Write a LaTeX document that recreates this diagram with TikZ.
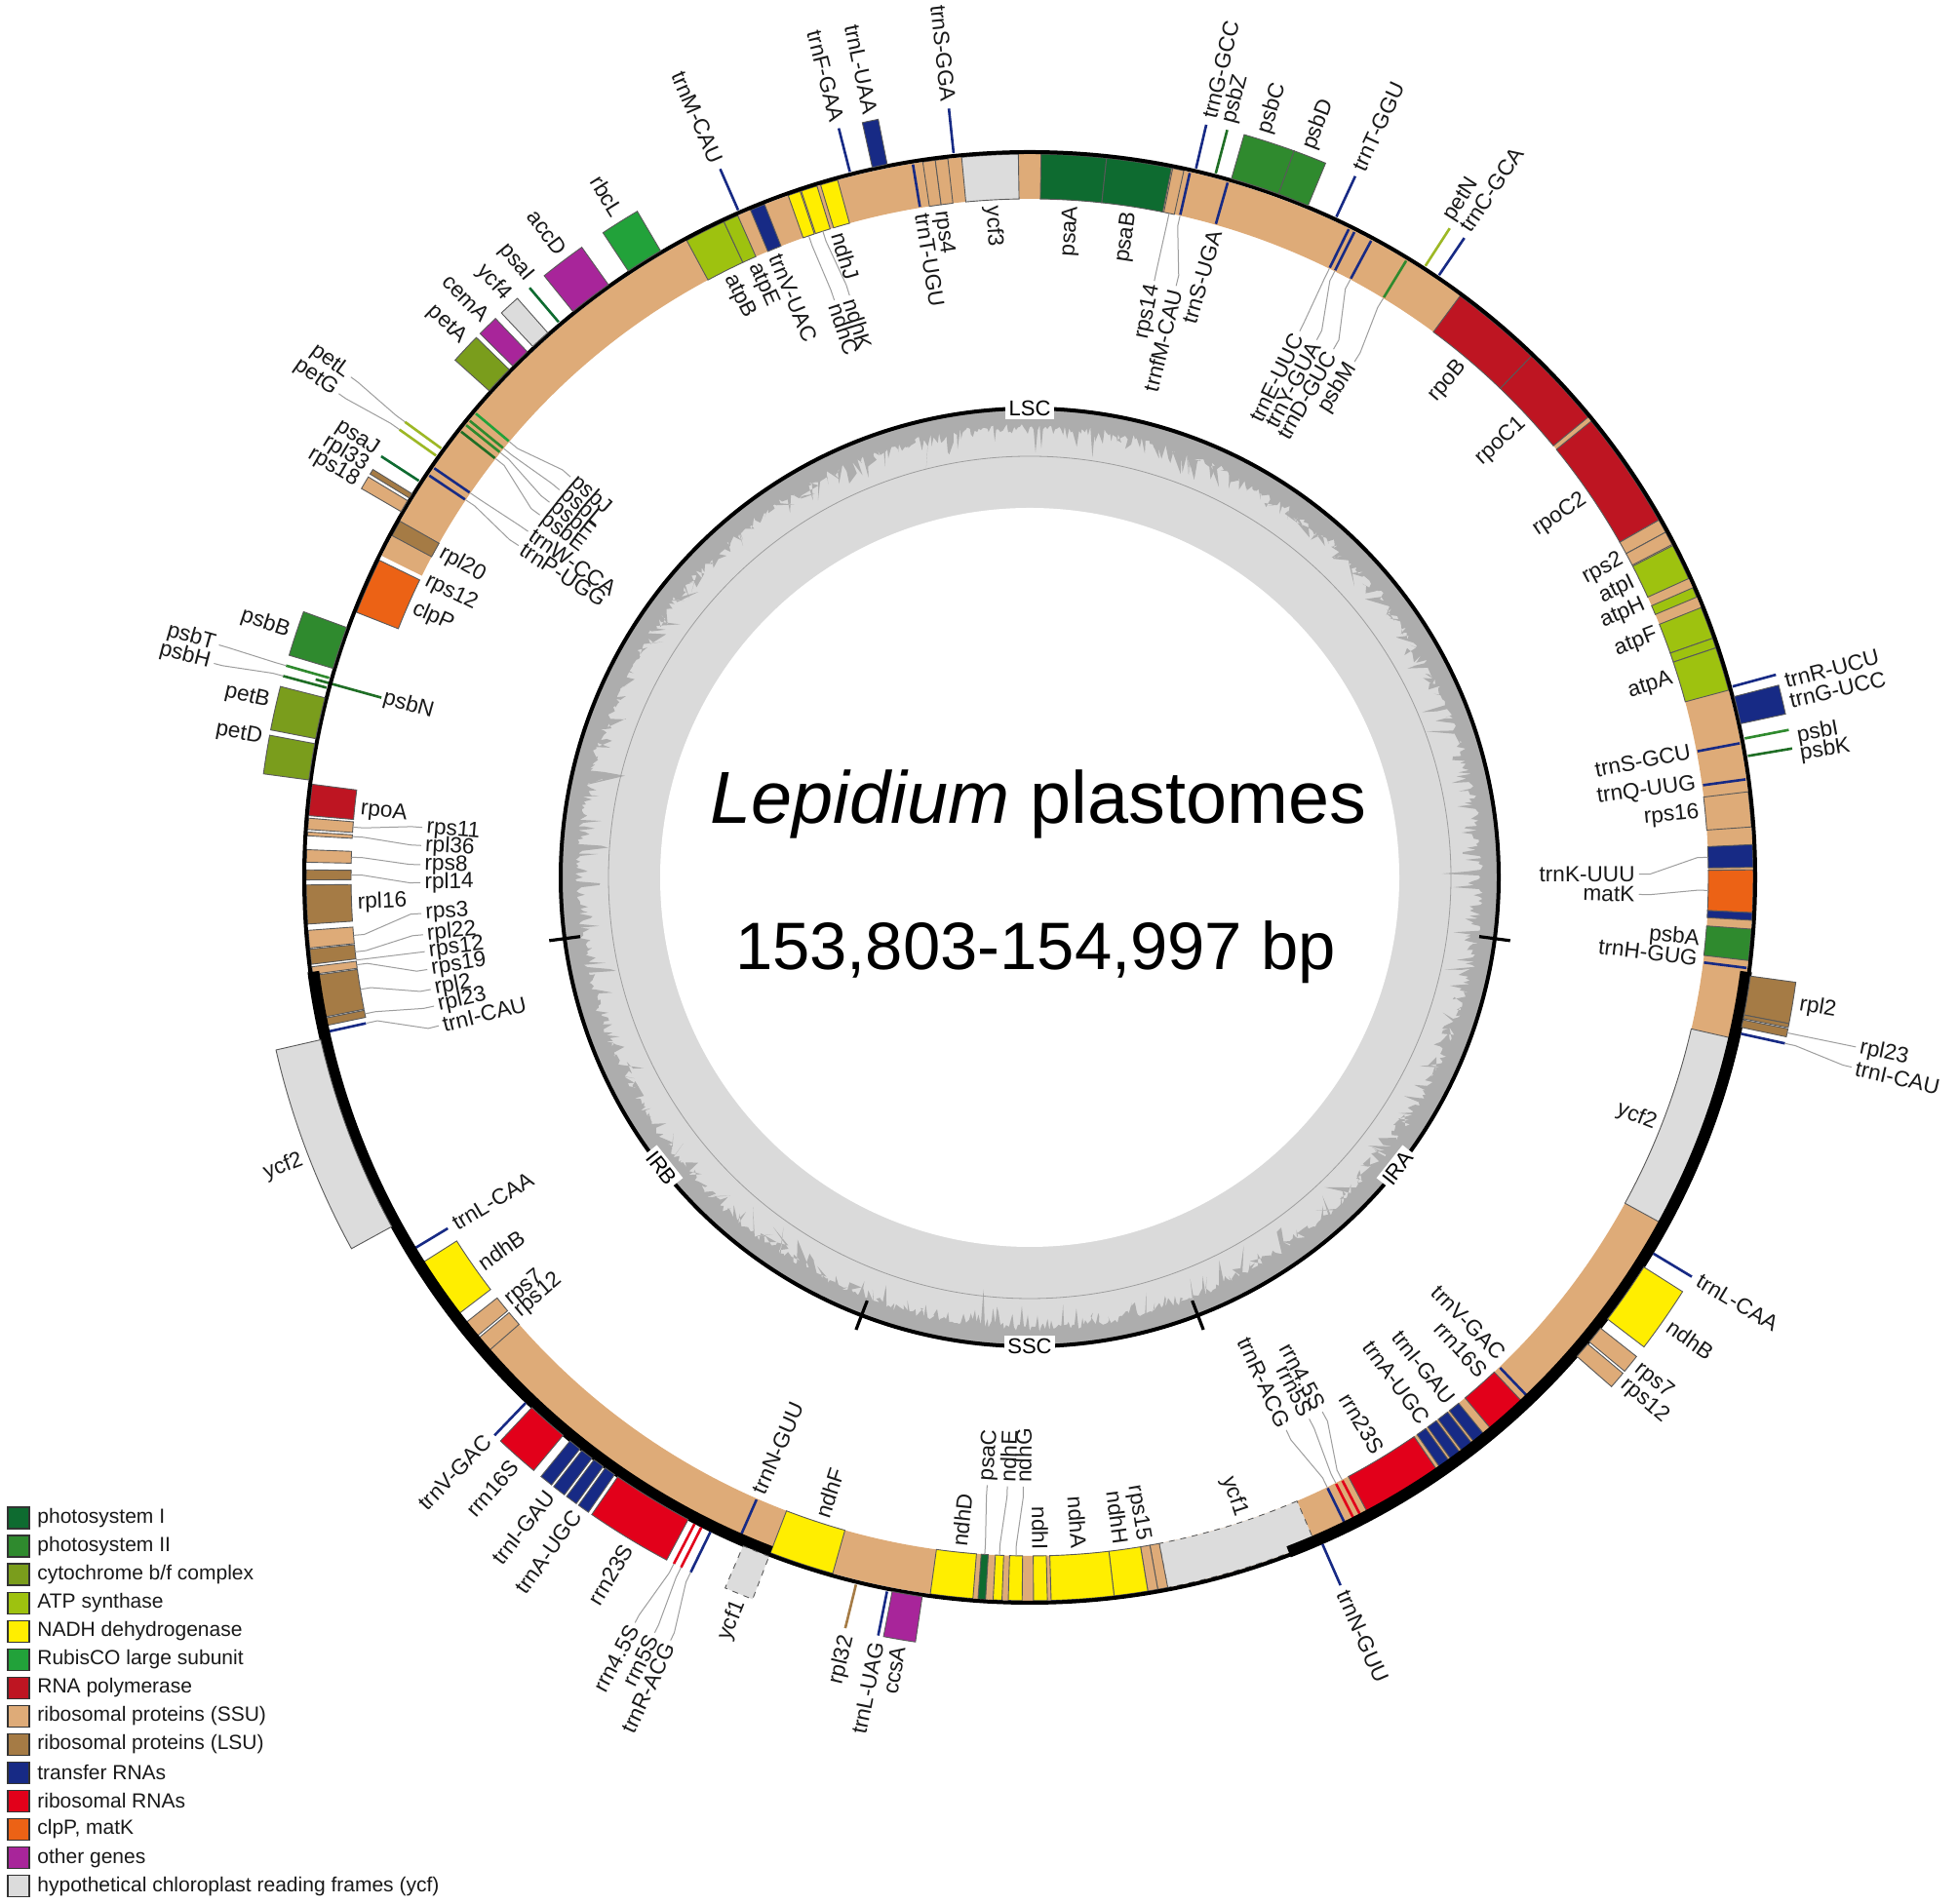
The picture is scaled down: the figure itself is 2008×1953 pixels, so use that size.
\documentclass[tikz,border=0pt]{standalone}
\usepackage{fontspec}
\setmainfont{Liberation Sans}
\setsansfont{Liberation Sans}
\definecolor{cPSI}{HTML}{0E6B30}
\definecolor{cPSII}{HTML}{2F8A2E}
\definecolor{cPSIId}{HTML}{1F6E25}
\definecolor{cCYT}{HTML}{7A9D1C}
\definecolor{cCYTl}{HTML}{9DB825}
\definecolor{cATP}{HTML}{9EC20F}
\definecolor{cNDH}{HTML}{FFEE00}
\definecolor{cRBC}{HTML}{22A23A}
\definecolor{cRPO}{HTML}{BE1522}
\definecolor{cSSU}{HTML}{DEAB78}
\definecolor{cLSU}{HTML}{A57B45}
\definecolor{cTRN}{HTML}{172A85}
\definecolor{cRRN}{HTML}{E2001A}
\definecolor{cCLP}{HTML}{EC6215}
\definecolor{cOTH}{HTML}{A8259A}
\definecolor{cYCF}{HTML}{DCDCDC}
\definecolor{gcL}{HTML}{DADADA}
\definecolor{gcD}{HTML}{ADADAD}
\tikzset{
 gene/.style={draw=black!65,line width=0.45pt},
 gline/.style={line width=1.3pt},
 lab/.style={font=\fontsize{11.3}{12}\selectfont,inner sep=0pt,text=black!90},
 leader/.style={draw=black!38,line width=0.5pt},
 reg/.style={fill=white,inner sep=1.6pt,font=\fontsize{11}{12}\selectfont},
 legsq/.style={draw=black!80,line width=0.6pt},
 legtx/.style={font=\fontsize{10.5}{12}\selectfont,anchor=west,inner sep=0pt,text=black!90},
}
\newcommand\sect[6]{\filldraw[gene,fill=#5,#6] ({90-(#1)}:#3) arc[start angle={90-(#1)},end angle={90-(#2)},radius=#3] -- ({90-(#2)}:#4) arc[start angle={90-(#2)},end angle={90-(#1)},radius=#4] -- cycle;}
\newcommand\ib[4][]{\sect{#2}{#3}{696}{742}{#4}{#1}}
\newcommand\ob[4][]{\sect{#2}{#3}{746}{793}{#4}{#1}}
\newcommand\il[2]{\draw[gline,draw=#2] ({90-(#1)}:697) -- ({90-(#1)}:741);}
\newcommand\ol[2]{\draw[gline,draw=#2] ({90-(#1)}:747) -- ({90-(#1)}:793);}
\newcounter{lc}
\newcommand\lo[3]{\stepcounter{lc}\pgfmathsetmacro\gA{90-(#1)}\pgfmathsetmacro\gR{270-(#1)}%
 \ifdim #1pt<180pt\relax
  \node[lab,rotate=\gA,anchor=west] (l\thelc) at (\gA:#2) {#3};%
 \else
  \node[lab,rotate=\gR,anchor=east] (l\thelc) at (\gA:#2) {#3};%
 \fi}
\newcommand\li[3]{\stepcounter{lc}\pgfmathsetmacro\gA{90-(#1)}\pgfmathsetmacro\gR{270-(#1)}%
 \ifdim #1pt<180pt\relax
  \node[lab,rotate=\gA,anchor=east] (l\thelc) at (\gA:#2) {#3};%
 \else
  \node[lab,rotate=\gR,anchor=west] (l\thelc) at (\gA:#2) {#3};%
 \fi}
\newcommand\ldo[2]{\draw[leader] ({90-(#1)}:793) -- ({90-(#1)}:804) -- ({90-(#2)}:856) -- ({90-(#2)}:865);}
\newcommand\ldi[2]{\draw[leader] ({90-(#1)}:696) -- ({90-(#1)}:685) -- ({90-(#2)}:636) -- ({90-(#2)}:625);}
\newcommand\LO[3]{\ldo{#1}{#2}\lo{#2}{869}{#3}}
\newcommand\LI[3]{\ldi{#1}{#2}\li{#2}{621}{#3}}
\begin{document}
\begin{tikzpicture}[x=0.5pt,y=0.5pt]
\useasboundingbox (0,0) rectangle (2008,1953);
\fill[white] (0,0) rectangle (2008,1953);
\begin{scope}[shift={(1056,1053)}]
% ---------- GC content ring ----------
\fill[gcL] (0,0) circle[radius=481];
\fill[white] (0,0) circle[radius=379];
\pgfmathsetseed{3}
\fill[gcD,even odd rule] (0,0) circle[radius=481] (0:462) \foreach \a in {0.25,0.5,...,359.75}{ -- ({\a}:{467-44*rnd*rnd*rnd-6*rnd}) } -- cycle;
\draw[black!38,line width=0.4pt] (0,0) circle[radius=432];
\draw[line width=2pt] (0,0) circle[radius=481];
\foreach \t in {97.5,159,201,262.5}{\draw[line width=1.6pt] ({90-\t}:465) -- ({90-\t}:497);}
\node[reg] (LSC) at (90:481) {LSC};
\node[reg] (SSC) at (-90:481) {SSC};
\node[reg,rotate=51.7] (IRA) at ({90-128.3}:481) {IRA};
\node[reg,rotate=-51.7] (IRB) at ({90-231.7}:481) {IRB};
% ---------- tan band (rps12 trans-spliced) ----------
\fill[cSSU] (-206.4:696) arc[start angle=-206.4,end angle=-498.8,radius=696] -- (-498.8:742) arc[start angle=-498.8,end angle=-206.4,radius=742] -- cycle;
% ---------- inner genes ----------
\ib{262.3}{262.9}{cSSU}\ib{263.1}{264.3}{cLSU}\ib{264.4}{265.8}{cSSU}
\ib{266.3}{269.4}{cLSU}\ib{269.8}{270.6}{cLSU}\ib{271.2}{272.2}{cSSU}
\ib{273.3}{273.6}{cSSU}\ib{273.8}{274.7}{cSSU}\ib{274.9}{277.4}{cRPO}
\draw[gline,draw=cPSIId] ({90-285.5}:690) -- ({90-285.5}:760);
\ib{291.5}{296.0}{cCLP}
\ib{298.2}{299.5}{cLSU}
\il{303.8}{cTRN}\il{304.5}{cTRN}
\il{308.1}{cPSIId}\il{308.75}{cPSII}\il{309.2}{cPSII}\il{309.95}{cRBC}
\ib{331.7}{335.0}{cATP}\ib{335.0}{336.2}{cATP}
\ib{337.3}{338.5}{cTRN}
\ib{340.5}{341.5}{cNDH}\ib{341.6}{342.9}{cNDH}\ib{343.2}{344.6}{cNDH}
\il{350.7}{cTRN}
\ib{351.5}{352.5}{cSSU}\ib{352.5}{353.5}{cSSU}
\ib{354.6}{359.1}{cYCF}
\ib{0.9}{6.1}{cPSI}\ib{6.1}{11.3}{cPSI}
\ib{11.4}{12.3}{cSSU}
\il{12.8}{cTRN}\il{15.9}{cTRN}
\il{26.2}{cTRN}\il{26.7}{cTRN}\il{28.2}{cTRN}
\il{31.4}{cPSII}
\ib{36.5}{43.9}{cRPO}\ib{43.9}{50.5}{cRPO}\ib{50.9}{60.4}{cRPO}
\ib{60.4}{61.5}{cSSU}\ib{61.5}{62.6}{cSSU}
\ib{62.7}{65.6}{cATP}\ib{66.4}{67.2}{cATP}\ib{68.1}{70.7}{cATP}\ib{70.7}{71.5}{cATP}\ib{71.5}{75.0}{cATP}
\il{79.3}{cTRN}\il{82.2}{cTRN}
\ib{83.2}{86.0}{cSSU}
\ib{87.4}{89.2}{cTRN}\ib{89.4}{92.8}{cCLP}\ib{92.8}{93.4}{cTRN}
\ib{94.1}{96.6}{cPSII}
\il{97.2}{cTRN}
% IRA inner
\ib{102.9}{118.7}{cYCF}
\il{136.2}{cTRN}
\ib{136.8}{140.1}{cRRN}
\ib{140.8}{141.8}{cTRN}\ib{142.0}{143.0}{cTRN}
\ib{143.2}{144.1}{cTRN}\ib{144.3}{145.2}{cTRN}
\ib{145.5}{152.0}{cRRN}
\il{152.6}{cRRN}\il{153.2}{cRRN}\il{154.0}{cTRN}
\ib[dashed]{156.8}{169.0}{cYCF}
% SSC inner
\ib{169.0}{169.8}{cSSU}\ib{169.8}{170.6}{cSSU}
\ib{170.6}{173.3}{cNDH}\ib{173.3}{178.3}{cNDH}\ib{178.6}{179.7}{cNDH}
\ib{180.6}{181.7}{cNDH}\ib{182.2}{182.9}{cNDH}\ib{183.5}{184.1}{cPSI}
\ib{184.5}{187.9}{cNDH}\ib{195.8}{201.0}{cNDH}
% IRB inner
\il{203.7}{cTRN}
\ib{228.8}{230.1}{cSSU}\ib{230.3}{231.7}{cSSU}\ib{232.6}{237.6}{cNDH}\il{238.9}{cTRN}
\il{257.6}{cTRN}\ib{258.1}{258.7}{cLSU}\ib{258.8}{262.2}{cLSU}
% ---------- genome circle ----------
\draw[line width=2pt] (0,0) circle[radius=744];
\draw[line width=6pt] ({90-97.5}:741) arc[start angle={90-97.5},end angle={90-159},radius=741];
\draw[line width=6pt] ({90-201}:741) arc[start angle={90-201},end angle={90-262.5},radius=741];
% ---------- outer genes ----------
\ob{277.7}{280.6}{cCYT}\ob{281.0}{284.3}{cCYT}
\ol{285.1}{cPSIId}\ol{285.9}{cPSII}
\ob{286.7}{290.1}{cPSII}
\ob{300.2}{301.2}{cSSU}\ob{301.45}{301.85}{cLSU}\ol{303.0}{cPSI}
\ol{305.4}{cCYTl}\ol{306.1}{cCYTl}
\ob{312.0}{314.3}{cCYT}\ob{314.7}{316.3}{cOTH}\ob{316.9}{318.5}{cYCF}\ol{319.7}{cPSI}
\ob{321.1}{324.6}{cOTH}\ob{326.5}{329.5}{cRBC}
\ol{336.4}{cTRN}\ol{345.7}{cTRN}\ob{347.5}{348.7}{cTRN}\ol{354.0}{cTRN}
\ol{13.2}{cTRN}\ol{14.8}{cPSIId}
\ob{16.1}{20.0}{cPSII}\ob{20.0}{22.5}{cPSII}
\ol{24.9}{cTRN}\ol{32.9}{cCYTl}\ol{34.2}{cTRN}
\ol{74.8}{cTRN}\ob{75.6}{77.8}{cTRN}\ol{79.0}{cPSII}\ol{80.4}{cPSIId}
% IRA outer
\ob{97.8}{100.9}{cLSU}\ob{100.9}{101.2}{cLSU}\ob{101.3}{101.9}{cLSU}\ol{102.4}{cTRN}
\ol{121.1}{cTRN}\ob{122.4}{127.4}{cNDH}\ob{128.3}{129.7}{cSSU}\ob{129.9}{131.2}{cSSU}
\ol{156.3}{cTRN}
% SSC outer
\ob{188.5}{190.9}{cOTH}\ol{191.3}{cTRN}\ol{193.8}{cLSU}
% IRB outer
\ob[dashed]{201.0}{203.2}{cYCF}
\ol{206.0}{cTRN}\ol{206.8}{cRRN}\ol{207.4}{cRRN}
\ob{208.0}{214.5}{cRRN}
\ob{214.8}{215.7}{cTRN}\ob{215.9}{216.8}{cTRN}\ob{217.0}{218.0}{cTRN}\ob{218.2}{219.2}{cTRN}
\ob{219.9}{223.2}{cRRN}\ol{223.8}{cTRN}
\ob{241.3}{257.1}{cYCF}
% ---------- outer labels ----------
\lo{280.3}{800}{petD}\lo{283.0}{800}{petB}\lo{288.4}{800}{psbB}
\lo{300.5}{800}{rps18}\lo{301.8}{800}{rpl33}\lo{303.2}{800}{psaJ}
\lo{313.5}{800}{petA}\lo{315.8}{800}{cemA}\lo{318.0}{800}{ycf4}\lo{320.1}{800}{psaI}
\lo{323.2}{800}{accD}\lo{328.2}{800}{rbcL}\lo{336.4}{800}{trnM-CAU}
\lo{345.7}{800}{trnF-GAA}\lo{348.2}{800}{trnL-UAA}\lo{354.0}{800}{trnS-GGA}
\lo{13.3}{800}{trnG-GCC}\lo{14.8}{800}{psbZ}\lo{17.5}{800}{psbC}\lo{21.0}{800}{psbD}
\lo{24.9}{800}{trnT-GGU}\lo{32.5}{800}{petN}\lo{33.9}{800}{trnC-GCA}
\lo{75.4}{800}{trnR-UCU}\lo{76.9}{800}{trnG-UCC}\lo{79.6}{800}{psbI}\lo{80.9}{800}{psbK}
\lo{99.4}{800}{rpl2}\lo{121.0}{800}{trnL-CAA}\lo{125.0}{800}{ndhB}
\lo{128.9}{800}{rps7}\lo{130.4}{800}{rps12}\lo{156.3}{800}{trnN-GUU}
\lo{189.7}{800}{ccsA}\lo{191.3}{800}{trnL-UAG}\lo{193.5}{800}{rpl32}\lo{201.8}{800}{ycf1}
\lo{211.0}{800}{rrn23S}\lo{215.5}{800}{trnA-UGC}\lo{217.9}{800}{trnI-GAU}
\lo{221.3}{800}{rrn16S}\lo{224.0}{800}{trnV-GAC}\lo{248.8}{800}{ycf2}
\LO{285.1}{284.7}{psbH}\LO{285.9}{286.0}{psbT}
\LO{305.4}{305.0}{petG}\LO{306.1}{306.4}{petL}
\LO{101.6}{101.6}{rpl23}\LO{102.4}{103.0}{trnI-CAU}
\LO{206.0}{205.2}{trnR-ACG}\LO{206.8}{206.4}{rrn5S}\LO{207.4}{207.9}{rrn4.5S}
% ---------- inner labels ----------
\li{275.8}{690}{rpoA}\li{267.8}{690}{rpl16}\li{285.5}{688}{psbN}
\li{293.6}{690}{clpP}\li{296.2}{690}{rps12}\li{298.9}{690}{rpl20}
\li{333.5}{690}{atpB}\li{335.8}{690}{atpE}\li{337.8}{690}{trnV-UAC}\li{343.5}{690}{ndhJ}
\li{350.8}{690}{trnT-UGU}\li{352.4}{690}{rps4}\li{356.8}{690}{ycf3}
\li{3.6}{690}{psaA}\li{8.6}{690}{psaB}\li{16.0}{690}{trnS-UGA}
\li{40.1}{690}{rpoB}\li{47.2}{690}{rpoC1}\li{55.6}{690}{rpoC2}
\li{61.7}{690}{rps2}\li{63.9}{690}{atpI}\li{66.0}{690}{atpH}\li{68.8}{690}{atpF}\li{72.8}{690}{atpA}
\li{79.2}{690}{trnS-GCU}\li{82.0}{690}{trnQ-UUG}\li{84.5}{690}{rps16}
\li{95.3}{690}{psbA}\li{96.9}{690}{trnH-GUG}
\li{111.5}{690}{ycf2}\li{135.4}{690}{trnV-GAC}\li{137.6}{690}{rrn16S}
\li{141.2}{690}{trnI-GAU}\li{144.0}{690}{trnA-UGC}\li{148.7}{690}{rrn23S}
\li{161.7}{690}{ycf1}\li{170.3}{690}{rps15}\li{172.2}{690}{ndhH}\li{175.8}{690}{ndhA}
\li{179.1}{690}{ndhI}\li{186.0}{690}{ndhD}\li{198.0}{690}{ndhF}\li{203.8}{690}{trnN-GUU}
\li{229.6}{690}{rps12}\li{230.9}{690}{rps7}\li{234.8}{690}{ndhB}\li{238.9}{690}{trnL-CAA}
\LI{274.25}{274.7}{rps11}\LI{273.45}{273.0}{rpl36}\LI{271.7}{271.2}{rps8}\LI{270.2}{269.5}{rpl14}
\LI{265.1}{266.6}{rps3}\LI{263.7}{264.6}{rpl22}\LI{263.0}{263.0}{rps12}\LI{262.6}{261.3}{rps19}
\LI{260.5}{259.4}{rpl2}\LI{258.4}{257.8}{rpl23}\LI{257.6}{255.9}{trnI-CAU}
\LI{303.8}{303.0}{trnP-UGG}\LI{304.5}{304.6}{trnW-CCA}
\LI{308.1}{306.5}{psbE}\LI{308.75}{308.0}{psbF}\LI{309.2}{309.5}{psbL}\LI{309.95}{311.1}{psbJ}
\LI{341.0}{341.3}{ndhC}\LI{342.25}{342.8}{ndhK}
\LI{11.85}{11.8}{rps14}\LI{12.8}{13.9}{trnfM-CAU}
\LI{26.2}{26.3}{trnE-UUC}\LI{26.7}{28.1}{trnY-GUA}\LI{28.2}{29.9}{trnD-GUC}\LI{31.4}{32.2}{psbM}
\LI{88.3}{89.7}{trnK-UUU}\LI{91.1}{91.6}{matK}
\LI{152.6}{151.3}{rrn4.5S}\LI{153.2}{152.7}{rrn5S}\LI{154.0}{155.1}{trnR-ACG}
\LI{181.15}{180.6}{ndhG}\LI{182.55}{182.1}{ndhE}\LI{183.8}{184.0}{psaC}
\end{scope}
% ---------- central text ----------
\node[font=\fontsize{37.8}{40}\selectfont,anchor=base,inner sep=0pt] (title) at (1065,1108) {\textit{Lepidium} plastomes};
\node[font=\fontsize{34.4}{38}\selectfont,anchor=base,inner sep=0pt] (size) at (1062,958) {153,803-154,997 bp};
% ---------- legend ----------
\foreach \c/\t [count=\k from 0] in {cPSI/{photosystem I},cPSII/{photosystem II},cCYT/{cytochrome b/f complex},cATP/{ATP synthase},cNDH/{NADH dehydrogenase},cRBC/{RubisCO large subunit},cRPO/{RNA polymerase},cSSU/{ribosomal proteins (SSU)},cLSU/{ribosomal proteins (LSU)},cTRN/{transfer RNAs},cRRN/{ribosomal RNAs},cCLP/{clpP, matK},cOTH/{other genes},cYCF/{hypothetical chloroplast reading frames (ycf)}}{
 \pgfmathsetmacro\yc{1953-(1557+29.05*\k)}
 \draw[legsq,fill=\c] (8,\yc-11) rectangle (30,\yc+11);
 \node[legtx] (leg\k) at (38,\yc) {\t};
}
\end{tikzpicture}
\end{document}
